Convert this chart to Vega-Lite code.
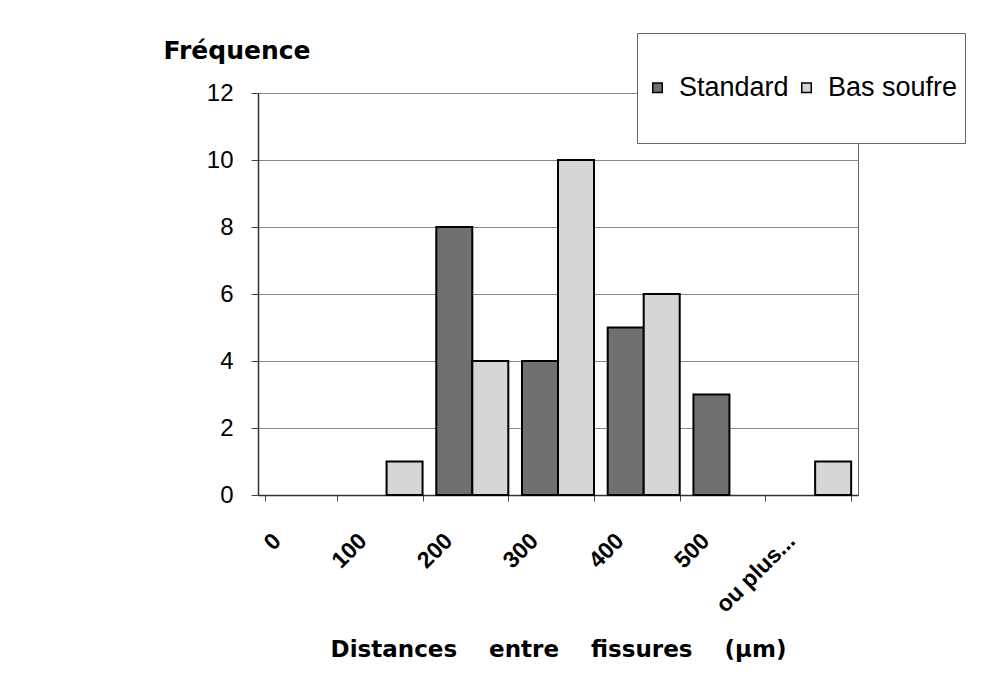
{
  "$schema": "https://vega.github.io/schema/vega-lite/v6.json",
  "width": 600,
  "height": 402,
  "autosize": {"type": "none"},
  "padding": {"left": 258, "top": 93, "right": 149, "bottom": 200},
  "background": "white",
  "data": {"values": [
    {"dist": "0", "serie": "Standard", "n": 0},
    {"dist": "0", "serie": "Bas soufre", "n": 0},
    {"dist": "100", "serie": "Standard", "n": 0},
    {"dist": "100", "serie": "Bas soufre", "n": 1},
    {"dist": "200", "serie": "Standard", "n": 8},
    {"dist": "200", "serie": "Bas soufre", "n": 4},
    {"dist": "300", "serie": "Standard", "n": 4},
    {"dist": "300", "serie": "Bas soufre", "n": 10},
    {"dist": "400", "serie": "Standard", "n": 5},
    {"dist": "400", "serie": "Bas soufre", "n": 6},
    {"dist": "500", "serie": "Standard", "n": 3},
    {"dist": "500", "serie": "Bas soufre", "n": 0},
    {"dist": "ou plus...", "serie": "Standard", "n": 0},
    {"dist": "ou plus...", "serie": "Bas soufre", "n": 1}
  ]},
  "transform": [{"filter": "datum.n > 0"}],
  "mark": {"type": "bar", "stroke": "black", "strokeWidth": 2},
  "encoding": {
    "x": {
      "field": "dist",
      "type": "nominal",
      "sort": null,
      "scale": {"domain": ["0", "100", "200", "300", "400", "500", "ou plus..."], "paddingInner": 0.16, "paddingOuter": 0.08},
      "axis": {
        "title": "Distances\u00a0\u00a0\u00a0\u00a0entre\u00a0\u00a0\u00a0\u00a0fissures\u00a0\u00a0\u00a0\u00a0(μm)",
        "titleFont": "DejaVu Sans",
        "titleFontSize": 23,
        "titleFontWeight": "bold",
        "titleColor": "black",
        "titleY": 161,
        "titleBaseline": "alphabetic",
        "labelAngle": -45,
        "labelAlign": "right",
        "labelBaseline": "middle",
        "labelOffset": -24,
        "labelPadding": 36,
        "labelFont": "Liberation Sans",
        "labelFontSize": 23,
        "labelFontWeight": "bold",
        "labelColor": "black",
        "tickBand": "extent",
        "tickSize": 6,
        "tickColor": "#444",
        "domainColor": "#333",
        "domainWidth": 1.5,
        "grid": false
      }
    },
    "xOffset": {"field": "serie", "scale": {"domain": ["Standard", "Bas soufre"], "paddingInner": 0, "paddingOuter": 0}},
    "y": {
      "field": "n",
      "type": "quantitative",
      "scale": {"domain": [0, 12]},
      "axis": {
        "values": [0, 2, 4, 6, 8, 10, 12],
        "title": "Fréquence",
        "titleAngle": 0,
        "titleAlign": "left",
        "titleBaseline": "alphabetic",
        "titleX": -95,
        "titleY": -35,
        "titleFont": "DejaVu Sans",
        "titleFontSize": 25,
        "titleFontWeight": "bold",
        "titleColor": "black",
        "labelFont": "Liberation Sans",
        "labelFontSize": 24,
        "labelColor": "black",
        "labelPadding": 18,
        "tickSize": 7,
        "tickColor": "#444",
        "domainColor": "#333",
        "domainWidth": 1.5,
        "grid": true,
        "gridColor": "#888",
        "gridWidth": 1
      }
    },
    "color": {
      "field": "serie",
      "type": "nominal",
      "scale": {"domain": ["Standard", "Bas soufre"], "range": ["#707070", "#d6d6d6"]},
      "legend": {
        "orient": "none",
        "legendX": 379,
        "legendY": -60,
        "direction": "horizontal",
        "title": " ",
        "titleFontSize": 27,
        "titlePadding": 7,
        "padding": 7,
        "fillColor": "white",
        "strokeColor": "#666",
        "symbolType": "square",
        "symbolSize": 90,
        "symbolStrokeColor": "black",
        "symbolStrokeWidth": 1.5,
        "labelFont": "Liberation Sans",
        "labelFontSize": 27,
        "labelColor": "black",
        "labelOffset": 8,
        "labelLimit": 300,
        "columnPadding": 4,
        "labelExpr": "[datum.label, ' ']",
        "encode": {"labels": {"update": {"lineHeight": {"value": 35}}}}
      }
    }
  },
  "config": {
    "view": {"stroke": "#666", "strokeWidth": 1},
    "font": "Liberation Sans"
  }
}
